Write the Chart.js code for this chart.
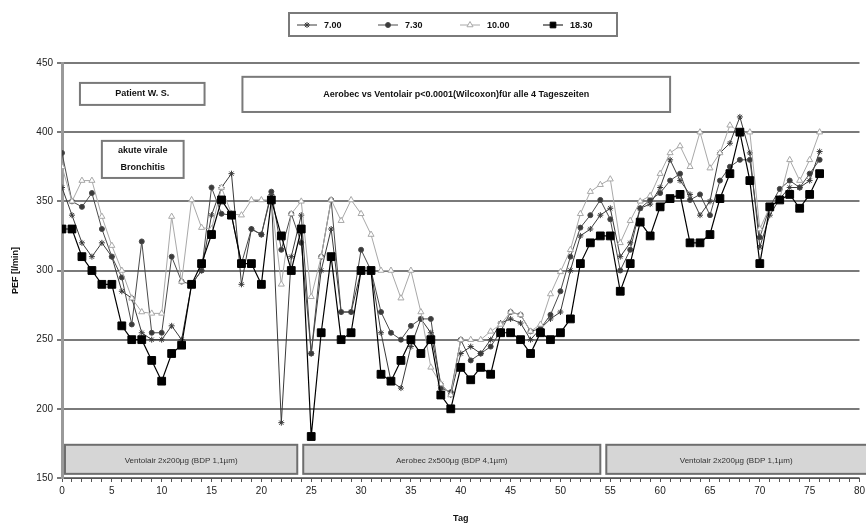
<!DOCTYPE html>
<html>
<head>
<meta charset="utf-8">
<script src="https://cdn.jsdelivr.net/npm/chart.js@4/dist/chart.umd.min.js"></script>
<style>
  html, body { margin: 0; padding: 0; background: #fff; }
  #wrap { width: 866px; height: 527px; }
</style>
</head>
<body>
<div id="wrap"><canvas id="pef" width="866" height="527"></canvas></div>
<script>
// days 0..76
const days = Array.from({ length: 77 }, (_, i) => i);

// PEF values [l/min], one array per time of day
const pef0700 = [360, 340, 320, 310, 320, 310, 285, 280, 255, 250, 250, 260, 250, 290, 300, 340, 360, 370, 290, 330,
  326, 355, 190, 310, 340, 240, 300, 330, 270, 270, 300, 300, 255, 220, 215, 245, 265, 255, 218, 210,
  240, 245, 240, 250, 262, 265, 262, 250, 258, 265, 270, 300, 325, 330, 340, 345, 310, 320, 345, 348,
  360, 380, 365, 355, 340, 350, 385, 392, 411, 385, 317, 340, 352, 360, 360, 365, 386];
const pef0730 = [385, 350, 346, 356, 330, 310, 295, 261, 321, 255, 255, 310, 292, 290, 300, 360, 341, 340, 305, 330,
  326, 357, 315, 341, 320, 240, 310, 351, 270, 270, 315, 300, 270, 255, 250, 260, 265, 265, 215, 212,
  250, 235, 240, 245, 256, 270, 268, 256, 258, 268, 285, 310, 331, 340, 351, 337, 300, 315, 345, 351,
  356, 365, 370, 351, 355, 340, 365, 375, 380, 380, 324, 346, 359, 365, 360, 370, 380];
const pef1000 = [375, 350, 365, 365, 339, 318, 300, 280, 270, 269, 269, 339, 292, 351, 331, 330, 360, 341, 340, 351,
  351, 351, 290, 341, 350, 281, 310, 351, 336, 351, 341, 326, 300, 300, 280, 300, 270, 230, 218, 210,
  250, 250, 250, 256, 261, 270, 268, 256, 261, 283, 299, 315, 341, 357, 362, 366, 320, 336, 350, 354,
  370, 385, 390, 375, 400, 374, 385, 405, 400, 400, 330, 346, 352, 380, 365, 380, 400];
const pef1830 = [330, 330, 310, 300, 290, 290, 260, 250, 250, 235, 220, 240, 246, 290, 305, 326, 351, 340, 305, 305,
  290, 351, 325, 300, 330, 180, 255, 310, 250, 255, 300, 300, 225, 220, 235, 250, 240, 250, 210, 200,
  230, 221, 230, 225, 255, 255, 250, 240, 255, 250, 255, 265, 305, 320, 325, 325, 285, 305, 335, 325,
  346, 352, 355, 320, 320, 326, 352, 370, 400, 365, 305, 346, 351, 355, 345, 355, 370];

const seriesLabels = ["7.00", "7.30", "10.00", "18.30"];
const yTicks = [150, 200, 250, 300, 350, 400, 450];

// treatment phases shown as grey bars at the bottom
const phaseNames = ["Ventolair 2x200µg (BDP 1,1µm)", "Aerobec 2x500µg (BDP 4,1µm)", "Ventolair 2x200µg (BDP 1,1µm)"];
const phaseStart = [0.3, 24.2, 54.6];
const phaseEnd = [23.6, 54.0, 81];

const FONT = "'Liberation Sans', Arial, sans-serif";

// text boxes, placed in data coordinates
const notes = [
  { x0: 1.8, x1: 14.3, y0: 419.7, y1: 435.6, lines: ["Patient W. S."] },
  { x0: 18.1, x1: 61.0, y0: 414.6, y1: 440.0, lines: ["Aerobec vs Ventolair p<0.0001(Wilcoxon)für alle 4 Tageszeiten"] },
  { x0: 4.0, x1: 12.2, y0: 366.9, y1: 393.7, lines: ["akute virale", "Bronchitis"] }
];

function pts(arr) {
  return arr.map((v, i) => ({ x: days[i], y: v }));
}

const styles = [
  { color: "#3a3a3a", point: "star", radius: 3, fill: "#3a3a3a", width: 1 },
  { color: "#4a4a4a", point: "circle", radius: 2.5, fill: "#3a3a3a", width: 1 },
  { color: "#a8a8a8", point: "triangle", radius: 3.5, fill: "#ffffff", width: 1 },
  { color: "#000000", point: "rect", radius: 5.5, fill: "#000000", width: 1.2 }
];
const allData = [pef0700, pef0730, pef1000, pef1830];

const datasets = allData.map((arr, k) => ({
  label: seriesLabels[k],
  data: pts(arr),
  borderColor: styles[k].color,
  borderWidth: styles[k].width,
  backgroundColor: styles[k].fill,
  pointStyle: styles[k].point,
  pointRadius: styles[k].radius,
  pointBorderColor: styles[k].color,
  pointBorderWidth: 1,
  pointBackgroundColor: styles[k].fill,
  tension: 0,
  order: 4 - k
}));

function drawMarker(ctx, st, x, y) {
  ctx.save();
  ctx.fillStyle = st.fill;
  ctx.strokeStyle = st.color;
  ctx.lineWidth = 1;
  if (Chart.helpers && Chart.helpers.drawPoint) {
    Chart.helpers.drawPoint(ctx, { pointStyle: st.point, radius: st.radius, borderWidth: 1 }, x, y);
  } else {
    ctx.beginPath();
    ctx.arc(x, y, st.radius, 0, Math.PI * 2);
    ctx.fill();
    ctx.stroke();
  }
  ctx.restore();
}

const decor = {
  id: "decor",
  beforeDatasetsDraw(chart) {
    const { ctx, scales } = chart;
    const xs = scales.x, ys = scales.y;
    ctx.save();
    // phase bars
    for (let i = 0; i < phaseNames.length; i++) {
      const l = xs.getPixelForValue(phaseStart[i]);
      const r = xs.getPixelForValue(phaseEnd[i]);
      const t = ys.getPixelForValue(174);
      const b = ys.getPixelForValue(153);
      ctx.fillStyle = "#d6d6d6";
      ctx.fillRect(l, t, r - l, b - t);
      ctx.strokeStyle = "#6e6e6e";
      ctx.lineWidth = 2;
      ctx.strokeRect(l, t, r - l, b - t);
      ctx.fillStyle = "#333";
      ctx.font = "8px " + FONT;
      ctx.textAlign = "center";
      ctx.textBaseline = "middle";
      const cx = Math.min((l + r) / 2, (l + chart.width) / 2);
      ctx.fillText(phaseNames[i], cx, (t + b) / 2 + 1);
    }
    // text boxes
    for (const n of notes) {
      const l = xs.getPixelForValue(n.x0);
      const r = xs.getPixelForValue(n.x1);
      const t = ys.getPixelForValue(n.y1);
      const b = ys.getPixelForValue(n.y0);
      ctx.fillStyle = "#fff";
      ctx.fillRect(l, t, r - l, b - t);
      ctx.strokeStyle = "#7a7a7a";
      ctx.lineWidth = 2;
      ctx.strokeRect(l, t, r - l, b - t);
      ctx.fillStyle = "#111";
      ctx.font = "bold 9px " + FONT;
      ctx.textAlign = "center";
      ctx.textBaseline = "middle";
      const lh = 17;
      const y0 = (t + b) / 2 - (n.lines.length - 1) * lh / 2;
      n.lines.forEach((s, j) => ctx.fillText(s, (l + r) / 2, y0 + j * lh));
    }
    ctx.restore();
  },
  afterDraw(chart) {
    // legend box at the top
    const ctx = chart.ctx;
    ctx.save();
    ctx.strokeStyle = "#7a7a7a";
    ctx.lineWidth = 2;
    ctx.strokeRect(289, 13, 328, 23);
    const starts = [297, 378, 460, 543];
    const cy = 25;
    ctx.font = "bold 9px " + FONT;
    ctx.textBaseline = "middle";
    ctx.textAlign = "left";
    for (let k = 0; k < 4; k++) {
      const st = styles[k];
      ctx.strokeStyle = st.color;
      ctx.lineWidth = 1;
      ctx.beginPath();
      ctx.moveTo(starts[k], cy);
      ctx.lineTo(starts[k] + 20, cy);
      ctx.stroke();
      drawMarker(ctx, Object.assign({}, st, { radius: Math.min(st.radius, 4) }), starts[k] + 10, cy);
      ctx.fillStyle = "#111";
      ctx.fillText(seriesLabels[k], starts[k] + 27, cy + 1);
    }
    ctx.restore();
  }
};

new Chart(document.getElementById("pef"), {
  type: "line",
  data: { datasets },
  options: {
    responsive: false,
    animation: false,
    layout: { padding: { top: 63, right: 4, left: 0, bottom: 0 } },
    plugins: { legend: { display: false }, tooltip: { enabled: false } },
    scales: {
      x: {
        type: "linear",
        min: 0,
        max: 80,
        afterBuildTicks(scale) {
          scale.ticks = Array.from({ length: 81 }, (_, i) => ({ value: i }));
        },
        afterFit(scale) {
          scale.height = 49;
          scale.paddingRight = 0;
          scale.paddingLeft = 0;
        },
        ticks: {
          autoSkip: false,
          maxRotation: 0,
          padding: 3,
          color: "#222",
          font: { family: FONT, size: 10 },
          callback: (v) => (v % 5 === 0 ? String(v) : "")
        },
        grid: {
          drawOnChartArea: false,
          drawTicks: true,
          tickLength: 4,
          color: "#555",
          lineWidth: 1
        },
        border: { display: true, color: "#555", width: 1 },
        title: {
          display: true,
          text: "Tag",
          color: "#111",
          font: { family: FONT, size: 9, weight: "bold" },
          padding: { top: 0, bottom: 3 }
        }
      },
      y: {
        min: 150,
        max: 450,
        afterBuildTicks(scale) {
          scale.ticks = yTicks.map((v) => ({ value: v }));
        },
        afterFit(scale) {
          scale.width = 62;
        },
        ticks: {
          padding: 4,
          color: "#222",
          font: { family: FONT, size: 10 }
        },
        grid: {
          color: "#7a7a7a",
          lineWidth: 2,
          tickLength: 5,
          drawTicks: true
        },
        border: { display: true, color: "#9a9a9a", width: 3 },
        title: {
          display: true,
          text: "PEF [l/min]",
          color: "#111",
          font: { family: FONT, size: 9, weight: "bold" },
          padding: { top: 10, bottom: 0 }
        }
      }
    }
  },
  plugins: [decor]
});
</script>
</body>
</html>
